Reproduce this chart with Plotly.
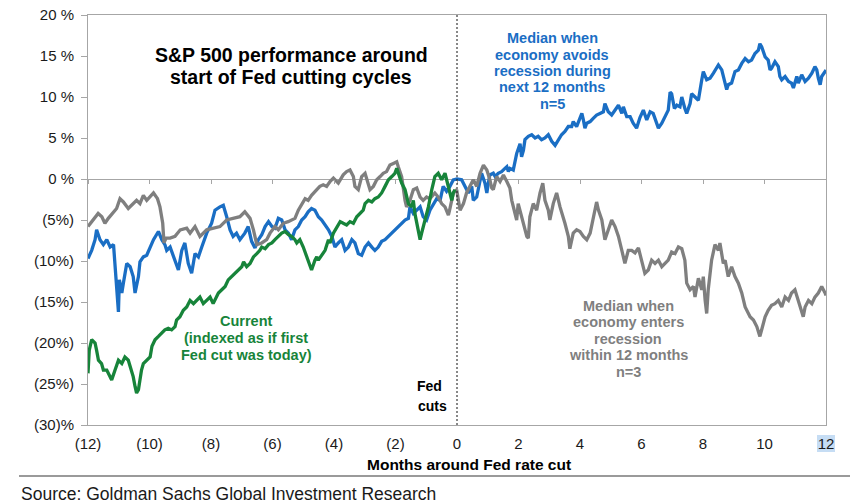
import plotly.graph_objects as go

# ---------------- data ----------------
x_ticks = [-12, -10, -8, -6, -4, -2, 0, 2, 4, 6, 8, 10, 12]
x_ticktext = ["(12)", "(10)", "(8)", "(6)", "(4)", "(2)", "0", "2", "4", "6", "8", "10", "12"]
y_ticks = [-30, -25, -20, -15, -10, -5, 0, 5, 10, 15, 20]
y_ticktext = ["(30)%", "(25%)", "(20%)", "(15%)", "(10%)", "(5%)", "0 %", "5 %", "10 %", "15 %", "20 %"]

# Median when economy avoids recession (n=5)
avoid_months = [
    -12.0, -11.88, -11.77, -11.72, -11.61, -11.5, -11.39, -11.28, -11.17, -11.12, -11.07, -11.01, -10.98,
    -10.9, -10.85, -10.74, -10.63, -10.53, -10.47, -10.36, -10.31, -10.2, -10.09, -9.98, -9.87, -9.71,
    -9.6, -9.5, -9.44, -9.33, -9.22, -9.12, -9.06, -8.95, -8.85, -8.74, -8.63, -8.52, -8.41, -8.3, -8.14,
    -7.98, -7.87, -7.71, -7.6, -7.49, -7.38, -7.28, -7.17, -7.06, -6.9, -6.79, -6.68, -6.57, -6.46, -6.35,
    -6.24, -6.13, -6.02, -5.92, -5.81, -5.7, -5.59, -5.48, -5.38, -5.27, -5.16, -5.05, -4.94, -4.84, -4.73,
    -4.62, -4.51, -4.4, -4.29, -4.18, -4.07, -3.97, -3.86, -3.75, -3.64, -3.53, -3.42, -3.32, -3.21, -3.1,
    -2.99, -2.88, -2.77, -2.67, -2.56, -2.45, -2.34, -2.23, -2.12, -2.02, -1.91, -1.8, -1.69, -1.58, -1.53,
    -1.42, -1.31, -1.2, -1.1, -0.99, -0.88, -0.77, -0.66, -0.55, -0.45, -0.34, -0.23, -0.12, 0.0, 0.15,
    0.26, 0.37, 0.48, 0.53, 0.64, 0.69, 0.75, 0.8, 0.91, 0.97, 1.02, 1.07, 1.18, 1.24, 1.34, 1.45, 1.56,
    1.62, 1.67, 1.72, 1.83, 1.89, 1.94, 2.05, 2.1, 2.16, 2.21, 2.32, 2.43, 2.54, 2.64, 2.75, 2.86, 2.97,
    3.08, 3.19, 3.29, 3.4, 3.51, 3.62, 3.73, 3.78, 3.89, 4.0, 4.06, 4.11, 4.16, 4.22, 4.33, 4.43, 4.54,
    4.65, 4.76, 4.81, 4.92, 5.03, 5.14, 5.25, 5.36, 5.41, 5.52, 5.63, 5.73, 5.84, 5.95, 6.06, 6.17, 6.28,
    6.38, 6.49, 6.55, 6.66, 6.76, 6.87, 6.93, 6.98, 7.07, 7.15, 7.25, 7.31, 7.41, 7.47, 7.58, 7.63, 7.74,
    7.85, 7.96, 8.01, 8.12, 8.23, 8.34, 8.5, 8.61, 8.66, 8.77, 8.82, 8.93, 9.04, 9.15, 9.26, 9.37, 9.48,
    9.58, 9.69, 9.8, 9.85, 9.91, 10.02, 10.12, 10.18, 10.23, 10.34, 10.45, 10.5, 10.56, 10.67, 10.78,
    10.88, 10.94, 11.05, 11.1, 11.21, 11.32, 11.43, 11.54, 11.64, 11.7, 11.75, 11.81, 11.86, 11.97, 12.0,
]
avoid_pct = [
    -9.7, -8.7, -7.4, -6.2, -7.4, -8.0, -7.4, -8.3, -8.0, -10.3, -13.1, -16.2, -12.3,
    -13.9, -12.7, -10.3, -10.7, -11.9, -13.9, -11.9, -10.1, -9.5, -9.3, -8.3, -7.4, -6.4,
    -7.4, -8.0, -8.7, -8.3, -9.5, -10.3, -11.1, -8.7, -7.8, -10.3, -11.5, -9.1, -9.5, -8.3, -6.6,
    -5.4, -3.8, -3.4, -3.2, -4.6, -6.2, -7.0, -6.6, -7.4, -6.6, -5.8, -7.6, -8.4, -7.4, -6.8,
    -5.8, -5.2, -5.8, -6.0, -4.8, -5.0, -6.2, -6.6, -7.4, -6.2, -5.8, -5.0, -4.6, -4.0, -3.6,
    -3.8, -4.6, -5.0, -5.6, -6.2, -7.0, -8.3, -7.8, -7.4, -8.7, -8.3, -7.4, -7.8, -9.1, -9.3,
    -8.3, -7.8, -8.3, -8.7, -8.3, -7.6, -7.4, -7.0, -6.6, -6.2, -5.8, -5.4, -5.0, -4.8, -3.4,
    -4.2, -3.8, -3.4, -4.6, -5.0, -3.8, -3.0, -2.4, -2.6, -0.9, -1.5, -0.9, -0.1, 0.0, -0.1,
    -0.9, -1.7, -0.9, -2.6, -2.2, -1.3, -0.1, 0.7, -0.5, -1.7, -0.5, 0.5, 0.7, 0.3, 0.7, 0.9, 1.3,
    1.5, 0.9, 1.3, 1.1, 2.3, 3.1, 4.3, 2.7, 3.5, 4.8, 5.2, 5.4, 5.0, 5.2, 4.8, 5.0, 5.4,
    4.6, 4.1, 4.8, 5.4, 5.8, 6.4, 6.4, 7.0, 6.4, 7.4, 8.0, 7.2, 6.2, 6.8, 7.0, 7.4, 7.8,
    8.0, 8.2, 9.2, 8.2, 7.8, 8.4, 9.0, 8.0, 8.8, 7.6, 7.6, 6.8, 6.2, 7.5, 8.4, 7.2, 8.2,
    8.0, 6.8, 6.2, 6.8, 7.6, 8.4, 10.6, 10.4, 8.6, 9.0, 8.8, 10.0, 8.6, 8.0, 9.2, 10.4, 10.0,
    9.6, 12.1, 13.1, 12.1, 12.3, 12.9, 13.9, 13.3, 12.5, 10.9, 11.5, 11.7, 13.1, 13.3, 14.1, 14.7, 14.3,
    14.5, 15.3, 15.7, 16.5, 16.1, 14.9, 14.5, 13.3, 13.5, 14.3, 13.7, 12.5, 12.1, 12.5, 11.9,
    11.7, 11.1, 12.5, 11.7, 12.7, 11.9, 12.3, 12.9, 13.7, 13.3, 12.3, 11.5, 12.5, 13.1, 13.0,
]

# Median when economy enters recession (n=3)
recess_months = [
    -12.0, -11.83, -11.67, -11.55, -11.45, -11.34, -11.18, -11.07, -10.96, -10.85, -10.69, -10.53, -10.42,
    -10.31, -10.2, -10.09, -9.98, -9.87, -9.74, -9.66, -9.57, -9.53, -9.46, -9.33, -9.17, -9.0, -8.79,
    -8.68, -8.52, -8.36, -8.14, -7.93, -7.71, -7.49, -7.28, -7.06, -6.9, -6.73, -6.62, -6.51, -6.35, -6.19,
    -6.08, -5.92, -5.81, -5.65, -5.49, -5.38, -5.27, -5.16, -5.05, -4.94, -4.84, -4.73, -4.56, -4.46,
    -4.35, -4.24, -4.13, -4.02, -3.86, -3.7, -3.59, -3.48, -3.37, -3.32, -3.21, -3.1, -2.99, -2.88,
    -2.83, -2.72, -2.61, -2.5, -2.4, -2.29, -2.18, -2.07, -1.96, -1.91, -1.8, -1.69, -1.64, -1.53,
    -1.42, -1.31, -1.2, -1.1, -0.99, -0.88, -0.72, -0.61, -0.5, -0.39, -0.28, -0.23, -0.12, -0.01,
    0.1, 0.21, 0.31, 0.42, 0.53, 0.64, 0.75, 0.86, 0.97, 1.07, 1.13, 1.18, 1.29, 1.4, 1.51, 1.62,
    1.72, 1.78, 1.89, 1.94, 1.99, 2.1, 2.21, 2.27, 2.32, 2.37, 2.48, 2.59, 2.7, 2.79, 2.86, 2.97,
    3.02, 3.13, 3.24, 3.35, 3.51, 3.62, 3.67, 3.78, 3.89, 4.0, 4.11, 4.22, 4.33, 4.43, 4.54, 4.6,
    4.71, 4.81, 4.92, 5.03, 5.14, 5.25, 5.36, 5.46, 5.57, 5.68, 5.79, 5.9, 6.0, 6.11, 6.22, 6.33,
    6.44, 6.55, 6.66, 6.76, 6.87, 6.98, 7.09, 7.2, 7.31, 7.41, 7.47, 7.58, 7.69, 7.74, 7.85, 7.96,
    8.01, 8.07, 8.12, 8.17, 8.28, 8.39, 8.5, 8.55, 8.61, 8.66, 8.72, 8.82, 8.93, 9.04, 9.15, 9.26,
    9.37, 9.53, 9.64, 9.75, 9.85, 9.91, 10.02, 10.12, 10.23, 10.34, 10.45, 10.56, 10.67, 10.78,
    10.88, 10.99, 11.1, 11.21, 11.26, 11.32, 11.43, 11.54, 11.64, 11.75, 11.86, 11.97, 12.0,
]
recess_pct = [
    -5.8, -5.0, -4.2, -4.6, -5.4, -4.8, -4.0, -3.6, -2.4, -2.8, -3.6, -3.0, -2.6,
    -3.0, -2.0, -2.6, -2.2, -1.7, -2.4, -3.4, -5.4, -7.8, -7.2, -7.2, -7.0, -6.2, -6.0,
    -6.6, -5.8, -7.0, -6.2, -6.0, -5.8, -5.0, -4.8, -4.6, -4.0, -4.8, -6.2, -8.0, -7.8, -7.4,
    -6.6, -5.8, -6.2, -5.4, -5.2, -5.0, -4.8, -3.8, -3.0, -2.4, -2.6, -2.0, -1.3, -0.9,
    -0.7, -0.9, -0.3, 0.1, -0.5, 0.5, 0.9, 1.1, 0.3, -0.9, -1.3, 0.3, 0.7, -0.5,
    -1.3, -0.9, -0.1, 0.3, 0.7, 0.9, 1.7, 1.9, 2.1, 1.5, 0.3, -2.6, -3.4, -2.6,
    -1.3, -1.1, -2.2, -2.6, -2.2, -2.4, -1.7, -2.2, -3.0, -3.4, -4.4, -3.6, -1.7, -1.3,
    -3.8, -3.0, -1.7, -0.9, -0.1, -0.9, 0.7, 1.7, 1.1, -0.1, -1.1, -1.3, 0.3, -0.3, 0.5, -0.3,
    -1.1, -2.6, -4.2, -5.0, -3.0, -4.6, -5.8, -7.0, -7.2, -4.6, -3.0, -3.8, -1.7, -0.5, -2.6, -3.8,
    -5.0, -3.0, -1.7, -3.4, -5.4, -7.0, -8.5, -6.6, -6.2, -6.4, -7.0, -7.4, -6.6, -4.6, -2.8, -3.8,
    -5.0, -7.4, -6.2, -5.0, -5.8, -7.0, -8.7, -10.3, -8.7, -8.7, -9.0, -8.4, -9.9, -11.5, -11.1, -9.9,
    -10.3, -9.9, -10.7, -10.3, -9.9, -8.9, -9.1, -8.3, -8.5, -9.9, -12.7, -13.5, -13.1, -14.4, -12.1, -13.5,
    -11.9, -14.8, -16.4, -13.5, -9.9, -8.0, -8.7, -7.8, -9.5, -10.3, -9.9, -11.9, -10.7, -11.9, -12.7, -13.9,
    -15.6, -16.8, -17.2, -18.0, -19.2, -18.4, -16.8, -16.0, -15.4, -15.2, -14.8, -15.6, -14.4, -14.8,
    -13.9, -13.5, -14.8, -16.0, -16.8, -15.6, -14.8, -15.2, -14.4, -13.9, -13.1, -13.9, -14.2,
]

# Current cycle (indexed as if first Fed cut was today)
current_months = [
    -12.0, -11.96, -11.88, -11.77, -11.72, -11.66, -11.56, -11.5, -11.39, -11.28, -11.23, -11.12, -11.01,
    -10.9, -10.8, -10.69, -10.58, -10.53, -10.47, -10.42, -10.36, -10.31, -10.26, -10.2, -10.09, -9.98,
    -9.92, -9.82, -9.71, -9.6, -9.5, -9.39, -9.28, -9.17, -9.12, -9.01, -8.9, -8.79, -8.68, -8.57, -8.47,
    -8.36, -8.25, -8.14, -8.03, -7.93, -7.87, -7.76, -7.65, -7.54, -7.44, -7.33, -7.22, -7.11, -7.0, -6.94,
    -6.84, -6.73, -6.62, -6.51, -6.41, -6.35, -6.24, -6.13, -6.02, -5.92, -5.81, -5.7, -5.59, -5.48, -5.38,
    -5.27, -5.21, -5.11, -5.0, -4.89, -4.78, -4.73, -4.62, -4.56, -4.51, -4.4, -4.29, -4.18, -4.13, -4.02,
    -3.91, -3.8, -3.7, -3.59, -3.48, -3.37, -3.26, -3.15, -3.05, -2.99, -2.88, -2.77, -2.67, -2.56, -2.45,
    -2.34, -2.23, -2.12, -2.02, -1.96, -1.91, -1.8, -1.69, -1.58, -1.47, -1.42, -1.37, -1.26, -1.2, -1.15,
    -1.04, -0.93, -0.82, -0.72, -0.61, -0.5, -0.39, -0.28, -0.17, -0.12, -0.07,
]
current_pct = [
    -23.7, -20.9, -19.6, -20.0, -20.9, -22.1, -22.5, -23.3, -23.3, -24.1, -24.5, -23.3, -22.1,
    -22.5, -21.7, -22.1, -23.3, -24.1, -25.3, -26.1, -25.7, -24.1, -23.3, -22.5, -22.1, -21.7,
    -20.4, -19.6, -19.2, -18.8, -18.4, -18.2, -18.4, -18.0, -17.2, -16.8, -16.0, -15.6, -14.8, -15.2, -14.8,
    -14.4, -15.2, -14.8, -14.4, -15.2, -14.8, -13.9, -13.5, -13.1, -12.3, -11.9, -11.5, -11.1, -10.7, -10.1,
    -10.7, -10.3, -9.5, -9.1, -8.7, -8.3, -8.5, -8.0, -7.8, -7.4, -7.0, -6.6, -6.4, -6.8, -7.0,
    -7.4, -7.8, -7.4, -8.3, -9.5, -10.7, -11.1, -9.9, -9.5, -9.9, -9.3, -8.7, -7.4, -7.8, -6.6,
    -5.8, -5.2, -5.4, -5.6, -5.2, -5.4, -4.6, -4.2, -3.8, -3.0, -2.6, -2.8, -2.4, -2.2, -1.7,
    -0.9, -0.1, 0.3, 0.7, 1.3, 0.7, -0.5, -1.3, -3.0, -3.4, -2.6, -4.2, -6.6, -7.4, -6.6,
    -5.0, -3.4, -1.3, 0.3, 0.7, -0.1, 0.7, -0.9, -2.6, -1.7, -1.3,
]

# ---------------- styling ----------------
FONT = "Liberation Sans, Arial, sans-serif"
BLUE = "#1a6ec4"
GRAY = "#7f7f7f"
GREEN = "#17843a"
AXIS = "#a6a6a6"

# plot area in pixels (for placing text outside / relative to plot)
L, R, T, B = 88, 826, 15, 425


def px_x(px):
    return (px - L) / (R - L)


def px_y(py):
    return (B - py) / (B - T)


fig = go.Figure()
fig.add_trace(go.Scatter(x=avoid_months, y=avoid_pct, mode="lines",
                         line=dict(color=BLUE, width=3.3), showlegend=False, hoverinfo="skip"))
fig.add_trace(go.Scatter(x=recess_months, y=recess_pct, mode="lines",
                         line=dict(color=GRAY, width=3.3), showlegend=False, hoverinfo="skip"))
fig.add_trace(go.Scatter(x=current_months, y=current_pct, mode="lines",
                         line=dict(color=GREEN, width=3.3), showlegend=False, hoverinfo="skip"))
# empty trace so the zero-line tick axis is rendered
fig.add_trace(go.Scatter(x=[], y=[], xaxis="x2", showlegend=False, hoverinfo="skip"))

fig.update_layout(
    width=850, height=504,
    margin=dict(l=L, r=850 - R, t=T, b=504 - B, autoexpand=False),
    paper_bgcolor="white", plot_bgcolor="white",
    font=dict(family=FONT, color="#1a1a1a"),
    xaxis=dict(range=[-12, 12], tickvals=x_ticks, ticktext=x_ticktext,
               showline=True, linecolor=AXIS, linewidth=1, mirror=True,
               ticks="", showgrid=False, zeroline=False,
               tickfont=dict(size=15, family=FONT, color="#1a1a1a"),
               ticklabelstandoff=5),
    xaxis2=dict(range=[-12, 12], overlaying="x", anchor="free", position=0.6,
                side="bottom", tickvals=x_ticks, ticks="outside", ticklen=4,
                tickcolor=AXIS, showticklabels=False, showline=False,
                showgrid=False, zeroline=False),
    yaxis=dict(range=[-30, 20], tickvals=y_ticks, ticktext=y_ticktext,
               showline=True, linecolor=AXIS, linewidth=1, mirror=True,
               ticks="outside", ticklen=6, tickcolor=AXIS,
               showgrid=False, zeroline=True, zerolinecolor=AXIS, zerolinewidth=1,
               tickfont=dict(size=15, family=FONT, color="#1a1a1a"),
               ticklabelstandoff=4),
)

shapes = [
    # Fed cut marker
    dict(type="line", xref="x", yref="y", x0=0, x1=0, y0=-30, y1=20,
         line=dict(color="#111111", width=1, dash="2px,2px")),
    # separator line above source
    dict(type="line", xref="paper", yref="paper", x0=px_x(19), x1=px_x(850),
         y0=px_y(476), y1=px_y(476), line=dict(color="#9a9a9a", width=2)),
    # highlight behind last tick label
    dict(type="rect", xref="paper", yref="paper", layer="below",
         x0=px_x(817), x1=px_x(835), y0=px_y(452), y1=px_y(435),
         fillcolor="#c6ddf4", line=dict(width=0)),
]
fig.update_layout(shapes=shapes)

ann = []


def add_text(text, cx, cy, size, color, bold=True, xanchor="center"):
    ann.append(dict(text=f"<b>{text}</b>" if bold else text, xref="paper", yref="paper",
                    x=px_x(cx), y=px_y(cy), xanchor=xanchor, yanchor="middle",
                    showarrow=False, font=dict(size=size, color=color, family=FONT)))


# chart title
add_text("S&P 500 performance around", 291, 55, 19.5, "#000000")
add_text("start of Fed cutting cycles", 291, 77, 19.5, "#000000")

# blue label
for t, yy in zip(["Median when", "economy avoids", "recession during", "next 12 months", "n=5"],
                 [38, 55, 71, 87, 104]):
    add_text(t, 552, yy, 14.5, BLUE)

# gray label
for t, yy in zip(["Median when", "economy enters", "recession", "within 12 months", "n=3"],
                 [306, 322, 339, 355, 372]):
    add_text(t, 628, yy, 14.5, GRAY)

# green label
for t, yy in zip(["Current", "(indexed as if first", "Fed cut was today)"], [321, 338, 355]):
    add_text(t, 246, yy, 14.5, GREEN)

# Fed cuts
add_text("Fed", 429, 386, 14, "#000000")
add_text("cuts", 432, 406, 14, "#000000")

# axis title
add_text("Months around Fed rate cut", 469, 464, 15.5, "#000000")

# source
add_text("Source: Goldman Sachs Global Investment Research", 19, 494, 17.5, "#1a1a1a",
         bold=False, xanchor="left")

fig.update_layout(annotations=ann)

# remove the default page margin so the 850x504 figure fills the window exactly
fig.write_html("out.html",
               config={"displayModeBar": False},
               post_script="document.body.style.margin='0';document.body.style.padding='0';"
                           "document.documentElement.style.overflow='hidden';")
